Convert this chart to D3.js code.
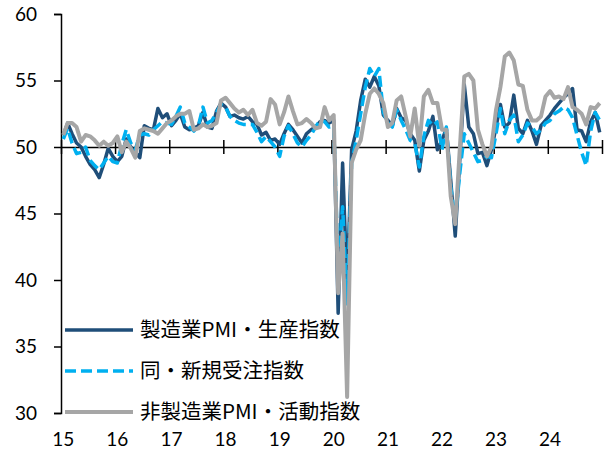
<!DOCTYPE html>
<html>
<head>
<meta charset="utf-8">
<script src="https://cdn.jsdelivr.net/npm/d3@7"></script>
<style>
  body { margin: 0; background: #fff; }
  svg text { fill: #000; }
</style>
</head>
<body>
<svg id="chart" width="608" height="454"></svg>
<script>
// monthly, Jan 2015 - Dec 2024
var startYear = 2015
var yearLabels = ["15", "16", "17", "18", "19", "20", "21", "22", "23", "24"]
var yTicks = [30, 35, 40, 45, 50, 55, 60]

var production = [
  50.9, 51.8, 51.0, 50.3, 50.0, 49.3, 48.7, 48.3, 47.7, 48.7, 49.9, 49.3,
  48.9, 49.3, 50.6, 50.0, 49.6, 49.2, 51.6, 51.4, 51.3, 52.9, 52.2, 52.5,
  51.6, 52.0, 52.5, 51.5, 51.3, 51.4, 51.6, 52.6, 51.5, 51.4, 52.7, 53.3,
  53.0, 52.3, 52.4, 52.2, 52.1, 52.3, 51.9, 51.7, 50.9, 51.1, 50.5, 50.6,
  50.2, 51.0, 51.7, 51.3, 50.8, 50.3, 51.0, 51.3, 51.5, 51.9, 52.0, 51.8,
  52.0, 37.5, 48.8, 39.5, 49.8, 51.2, 53.5, 55.1, 54.5, 55.3, 54.6, 52.4,
  52.0, 51.6, 52.9, 52.2, 52.0, 51.0, 50.5, 48.2, 50.5, 51.2, 52.3, 49.8,
  50.5, 51.4, 47.5, 43.3, 49.0, 54.7, 51.5, 51.0, 49.5, 49.6, 48.6, 49.8,
  51.5, 53.2, 51.5, 51.8, 53.9, 51.4, 51.0, 52.0, 51.2, 50.2, 51.6, 52.0,
  52.4, 52.9, 53.3, 53.7, 54.0, 54.4, 51.3, 51.2, 50.4, 51.9, 52.6, 51.1
]
var newOrders = [
  50.6, 51.4, 50.3, 49.5, 49.6, 50.0, 49.0, 48.6, 48.3, 48.8, 49.3, 48.9,
  48.8, 50.2, 51.3, 50.3, 49.8, 50.9, 51.0, 50.9, 51.3, 51.6, 51.9, 51.8,
  51.7, 52.3, 53.0, 51.8, 51.5, 51.2, 51.6, 53.0, 51.8, 52.0, 52.6, 53.2,
  53.0, 52.3, 52.0, 51.8, 51.7, 51.7, 51.7, 51.1, 50.4, 50.8, 50.4, 50.0,
  49.3, 50.8, 51.6, 51.0, 50.3, 50.0, 50.5, 50.9, 51.5, 52.0, 51.9, 51.5,
  51.6, 41.0, 45.5, 38.2, 48.8, 50.5, 52.5, 54.5, 55.9, 55.3, 55.9, 52.6,
  51.8, 51.5, 52.8, 52.0, 51.3, 50.5, 50.3, 48.5, 50.8, 52.0, 51.6, 51.9,
  49.8, 51.5, 47.0, 44.6, 48.0, 51.0, 50.3, 49.6, 48.9, 49.0, 49.3, 49.2,
  51.0, 52.9, 51.0, 52.0, 52.4, 50.4, 50.9, 51.8, 51.5, 51.0, 51.3, 51.8,
  52.0, 52.5, 52.7, 53.0, 52.8, 52.2, 50.9, 49.6, 48.6, 51.2, 52.6, 52.0
]
var nonMfg = [
  50.9, 51.8, 51.8, 51.5, 50.4, 50.9, 50.8, 50.5, 50.1, 50.4, 50.1, 50.3,
  50.8, 49.6, 50.4, 49.9, 49.2, 51.2, 51.4, 51.3, 51.2, 51.0, 51.4, 51.8,
  52.0, 52.3, 52.5, 52.5, 52.7, 51.3, 51.4, 51.7, 51.5, 51.6, 51.8, 53.5,
  53.7, 53.3, 52.9, 52.6, 52.8, 52.4, 52.8, 51.8, 51.6, 51.9, 53.6, 53.2,
  51.7, 52.6, 53.8, 52.7, 51.7, 51.8, 52.1, 51.8, 51.4, 51.5, 53.0, 52.0,
  52.4, 39.0, 43.5, 31.2, 48.8, 49.8, 50.5, 52.5, 54.0, 54.4, 54.0, 53.3,
  51.5, 51.8, 53.5, 53.8, 52.3, 50.8, 52.9, 50.1, 53.8, 54.3, 53.3, 53.3,
  51.3, 51.3, 46.3, 44.2, 49.8, 55.3, 55.5, 55.0, 51.3, 50.2, 49.3, 50.0,
  52.8, 54.5, 56.8, 57.1, 56.5, 54.7, 54.6, 52.8, 52.0, 52.0, 52.3, 53.8,
  54.2, 53.7, 53.8, 53.6, 54.5, 53.0, 52.8, 52.5, 51.7, 53.0, 52.9, 53.3
]

var series = [
  {name: "製造業PMI・生産指数", values: production, color: "#1F4E79", width: 3.5, dash: null},
  {name: "同・新規受注指数", values: newOrders, color: "#00B0F0", width: 3.5, dash: "11,5"},
  {name: "非製造業PMI・活動指数", values: nonMfg, color: "#A6A6A6", width: 4, dash: null}
]

var svg = d3.select("#chart")
var plotLeft = 61, plotRight = 602, plotTop = 14, plotBottom = 413

var start = new Date(startYear, 0, 1)
var end = new Date(startYear + yearLabels.length, 0, 1)
var x = d3.scaleTime().domain([start, end]).range([plotLeft, plotRight])
var y = d3.scaleLinear().domain([30, 60]).range([plotBottom, plotTop])

// mid-month date for point i
function midMonth(i) {
  var a = d3.timeMonth.offset(start, i), b = d3.timeMonth.offset(start, i + 1)
  return new Date((+a + +b) / 2)
}

var numFont = "Lato, 'Open Sans', sans-serif"
var jpFont = "'Noto Sans CJK JP', 'Noto Sans', sans-serif"

// y axis
var yAxis = svg.append("g")
  .attr("transform", "translate(" + plotLeft + ",0)")
  .call(d3.axisLeft(y).tickValues(yTicks).tickSize(7).tickPadding(17))
yAxis.select(".domain").attr("stroke", "#000").attr("stroke-width", 1.5)
yAxis.selectAll(".tick line").attr("stroke", "#000").attr("stroke-width", 1.5)
yAxis.selectAll(".tick text").attr("font-family", numFont).attr("font-size", "19px").attr("fill", "#000")

// x axis at 50, ticks crossing
var xAxis = svg.append("g")
  .attr("transform", "translate(0," + y(50) + ")")
  .call(d3.axisBottom(x).ticks(d3.timeYear.every(1)).tickSize(7).tickFormat("").tickSizeOuter(0))
xAxis.select(".domain").attr("stroke", "#000").attr("stroke-width", 1.5)
xAxis.selectAll(".tick line").attr("stroke", "#000").attr("stroke-width", 1.5).attr("y1", -7)

// year labels under the plot, at each January point
svg.append("g").selectAll("text")
  .data(yearLabels)
  .join("text")
  .attr("x", function(d, i) { return x(midMonth(i * 12)) })
  .attr("y", 446)
  .attr("text-anchor", "middle")
  .attr("font-family", numFont)
  .attr("font-size", "19px")
  .text(function(d) { return d })

// lines
var line = d3.line()
  .x(function(d, i) { return x(midMonth(i)) })
  .y(function(d) { return y(d) })

svg.append("g").selectAll("path")
  .data(series)
  .join("path")
  .attr("d", function(s) { return line(s.values) })
  .attr("fill", "none")
  .attr("stroke", function(s) { return s.color })
  .attr("stroke-width", function(s) { return s.width })
  .attr("stroke-dasharray", function(s) { return s.dash })
  .attr("stroke-linejoin", "round")

// legend
var lg = svg.append("g").selectAll("g")
  .data(series)
  .join("g")
  .attr("transform", function(d, i) { return "translate(65," + (330 + i * 41) + ")" })
lg.append("line")
  .attr("x1", 0).attr("x2", 68)
  .attr("stroke", function(s) { return s.color })
  .attr("stroke-width", function(s) { return s.width })
  .attr("stroke-dasharray", function(s) { return s.dash })
lg.append("text")
  .attr("x", 75)
  .attr("dy", "0.36em")
  .attr("font-family", jpFont)
  .attr("font-size", "20.5px")
  .text(function(s) { return s.name })
</script>
</body>
</html>
